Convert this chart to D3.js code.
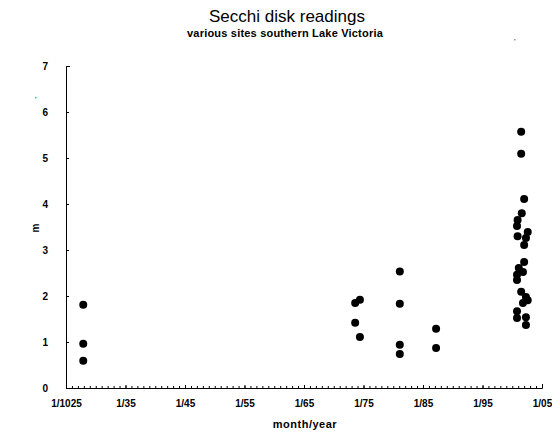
<!DOCTYPE html>
<html>
<head>
<meta charset="utf-8">
<script src="https://cdn.jsdelivr.net/npm/d3@7"></script>
<style>
  body { margin: 0; background: #fff; }
  svg { font-family: "Liberation Sans", Arial, sans-serif; }
  .axis path, .axis line { stroke: #000; }
  .axis text { font-size: 10px; font-weight: bold; fill: #000; }
</style>
</head>
<body>
<svg id="chart" width="552" height="436"></svg>
<script>
// sampling dates (decimal year) and secchi depth (m)
var years = [1927.9, 1927.9, 1927.9,
             1973.6, 1974.4, 1973.6, 1974.4,
             1981.1, 1981.1, 1981.1, 1981.1,
             1987.2, 1987.2,
             2001.5, 2001.5, 2002.0, 2001.6, 2000.9, 2000.8, 2000.9, 2002.6, 2002.3, 2002.0,
             2002.0, 2001.1, 2000.8, 2000.8, 2001.8, 2001.5, 2002.3, 2002.6, 2001.8,
             2000.8, 2000.8, 2002.3, 2002.3];
var depths = [1.81, 0.96, 0.59,
              1.85, 1.92, 1.42, 1.11,
              2.53, 1.83, 0.94, 0.74,
              1.29, 0.87,
              5.57, 5.09, 4.11, 3.80, 3.65, 3.52, 3.30, 3.39, 3.26, 3.11,
              2.74, 2.61, 2.46, 2.35, 2.52, 2.09, 1.98, 1.91, 1.85,
              1.67, 1.52, 1.54, 1.37];

var xTicks = [1925, 1935, 1945, 1955, 1965, 1975, 1985, 1995, 2005];
var xTickLabels = ["1/1025", "1/35", "1/45", "1/55", "1/65", "1/75", "1/85", "1/95", "1/05"];
var yTicks = [0, 1, 2, 3, 4, 5, 6, 7];

var svg = d3.select("#chart");

var xScale = d3.scaleLinear().domain([1925, 2005]).range([66, 542]),
    yScale = d3.scaleLinear().domain([0, 7]).range([388, 66]);

// titles
svg.append("text")
    .attr("x", 287).attr("y", 22)
    .attr("text-anchor", "middle")
    .style("font-size", "17px")
    .text("Secchi disk readings");

svg.append("text")
    .attr("x", 285).attr("y", 37)
    .attr("text-anchor", "middle")
    .style("font-size", "11px")
    .style("font-weight", "bold")
    .style("letter-spacing", "0.2px")
    .text("various sites southern Lake Victoria");

// stray scan marks
svg.append("text").attr("x", 514).attr("y", 44).style("font-size", "8px").text("'");
svg.append("text").attr("x", 35).attr("y", 102).style("font-size", "8px").text("'");

// minor year ticks on x axis
var minor = d3.range(1926, 2005);
svg.append("g")
    .attr("class", "axis")
    .attr("transform", "translate(0,388)")
    .call(d3.axisBottom(xScale).tickValues(minor).tickSize(-2).tickFormat(""))
    .select(".domain").remove();

// x axis
svg.append("g")
    .attr("class", "axis")
    .attr("transform", "translate(0,388)")
    .call(d3.axisBottom(xScale)
            .tickValues(xTicks)
            .tickSizeInner(-3)
            .tickSizeOuter(-4)
            .tickPadding(12)
            .tickFormat((d, i) => xTickLabels[i]));

// y axis
svg.append("g")
    .attr("class", "axis")
    .attr("transform", "translate(66,0)")
    .call(d3.axisLeft(yScale)
            .tickValues(yTicks)
            .tickSizeInner(-3)
            .tickSizeOuter(-4)
            .tickPadding(18)
            .tickFormat(d3.format("d")));

// axis titles
svg.append("text")
    .attr("x", 305).attr("y", 428)
    .attr("text-anchor", "middle")
    .style("font-size", "11px")
    .style("font-weight", "bold")
    .style("letter-spacing", "0.5px")
    .text("month/year");

svg.append("text")
    .attr("transform", "translate(39,228) rotate(-90)")
    .attr("text-anchor", "middle")
    .style("font-size", "10px")
    .style("font-weight", "bold")
    .text("m");

// points
svg.append("g")
    .selectAll("circle")
    .data(years)
    .enter()
    .append("circle")
    .attr("cx", d => xScale(d))
    .attr("cy", (d, i) => yScale(depths[i]))
    .attr("r", 4)
    .attr("fill", "#000");
</script>
</body>
</html>
